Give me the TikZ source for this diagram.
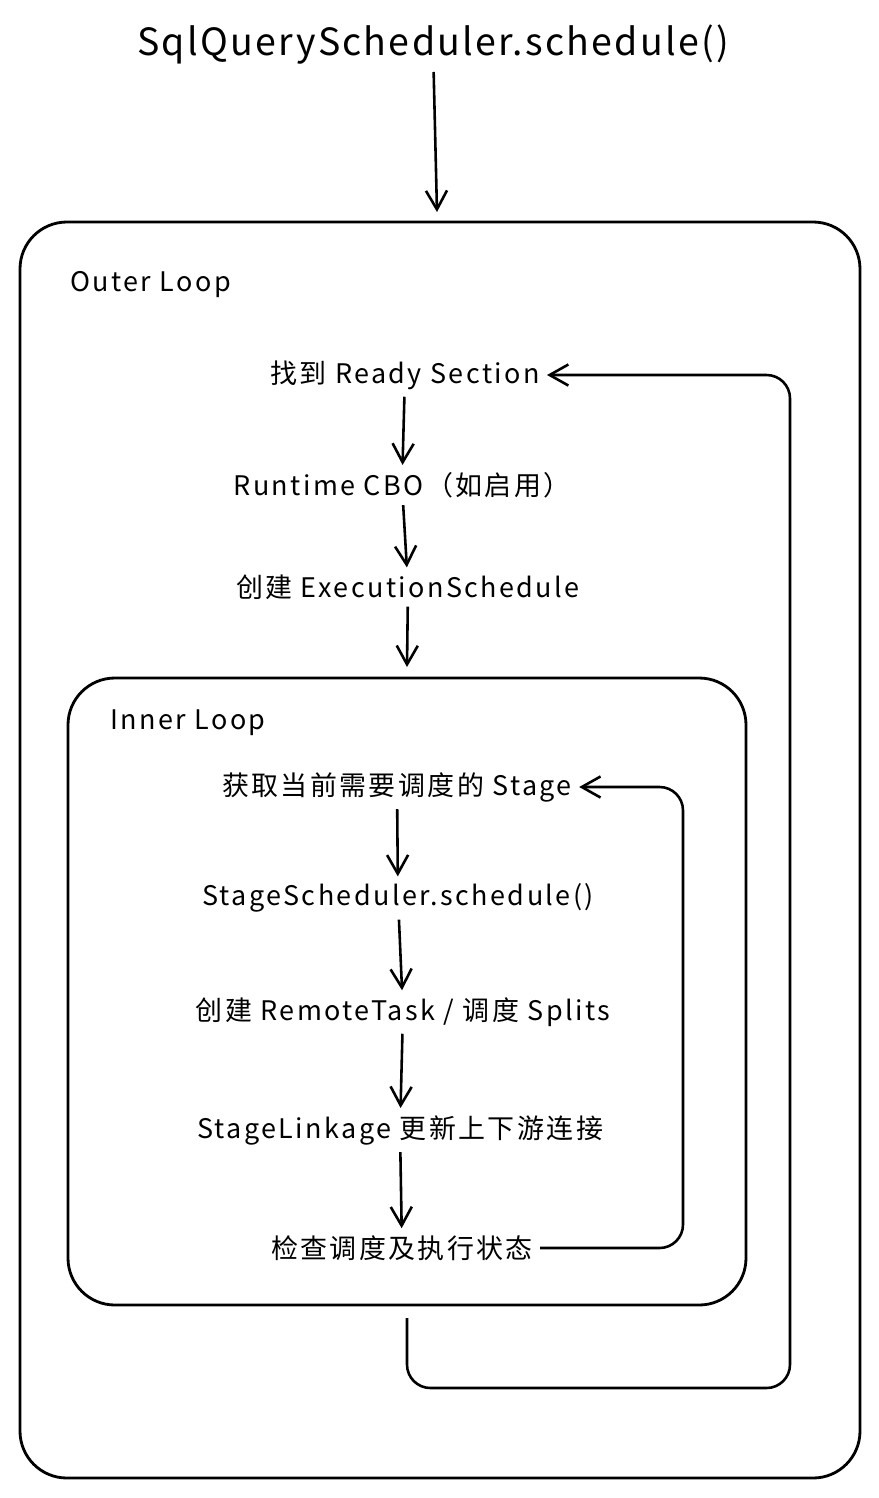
\documentclass[tikz,border=0pt]{standalone}
\usepackage{fontspec}
\setmainfont{Noto Sans CJK SC}
\usetikzlibrary{arrows.meta}
\tikzstyle{loopbox} = [draw=black, line width=2.4pt, rounded corners=40]
\tikzstyle{stepnode} = [text centered, inner sep=6pt, font=\fontsize{23}{27}\selectfont\addfontfeature{LetterSpace=9}]
\tikzstyle{caption} = [anchor=west, inner sep=0pt, font=\fontsize{23}{27}\selectfont\addfontfeature{LetterSpace=9}]
\tikzstyle{arrow} = [line width=2.2pt, -{Straight Barb[length=16pt,width=18pt,line width=2.2pt]}]
\tikzstyle{back} = [arrow, rounded corners=20]

\begin{document}
\begin{tikzpicture}[x=0.03cm, y=-0.03cm]
\useasboundingbox (0,0) rectangle (879,1498);

%% BOXES

\draw [loopbox] (20,222) rectangle (860,1478);
\draw [loopbox] (68,678) rectangle (746,1305);

%% NODES

\node (title) [stepnode, font=\fontsize{32}{38}\selectfont\addfontfeature{LetterSpace=6}] at (433,45) {SqlQueryScheduler.schedule()};
\coordinate (outertop) at (437,212);
\node (outer) [caption] at (70,285) {Outer Loop};
\node (ready) [stepnode] at (405,375) {找到 Ready Section};
\node (cbo) [stepnode] at (402,485) {Runtime CBO（如启用）};
\node (exec) [stepnode] at (408,587) {创建 ExecutionSchedule};
\coordinate (innertop) at (407,667);
\node (inner) [caption] at (110,723) {Inner Loop};
\node (getstage) [stepnode] at (397,787) {获取当前需要调度的 Stage};
\node (stagesched) [stepnode] at (398,898) {StageScheduler.schedule()};
\node (remote) [stepnode] at (403,1012) {创建 RemoteTask / 调度 Splits};
\node (linkage) [stepnode] at (400,1130) {StageLinkage 更新上下游连接};
\node (check) [stepnode] at (402,1248) {检查调度及执行状态};
\coordinate (innerbottom) at (407,1318);

%% ARROWS

\draw [arrow] (title) -- (outertop);
\draw [arrow] (ready) -- (cbo);
\draw [arrow] (cbo) -- (exec);
\draw [arrow] (exec) -- (innertop);
\draw [arrow] (getstage) -- (stagesched);
\draw [arrow] (stagesched) -- (remote);
\draw [arrow] (remote) -- (linkage);
\draw [arrow] (linkage) -- (check);
\draw [back] (check.east) -- (683,1248) |- (getstage.east);
\draw [back] (innerbottom) |- (790,1388) |- (ready.east);

\end{tikzpicture}
\end{document}
